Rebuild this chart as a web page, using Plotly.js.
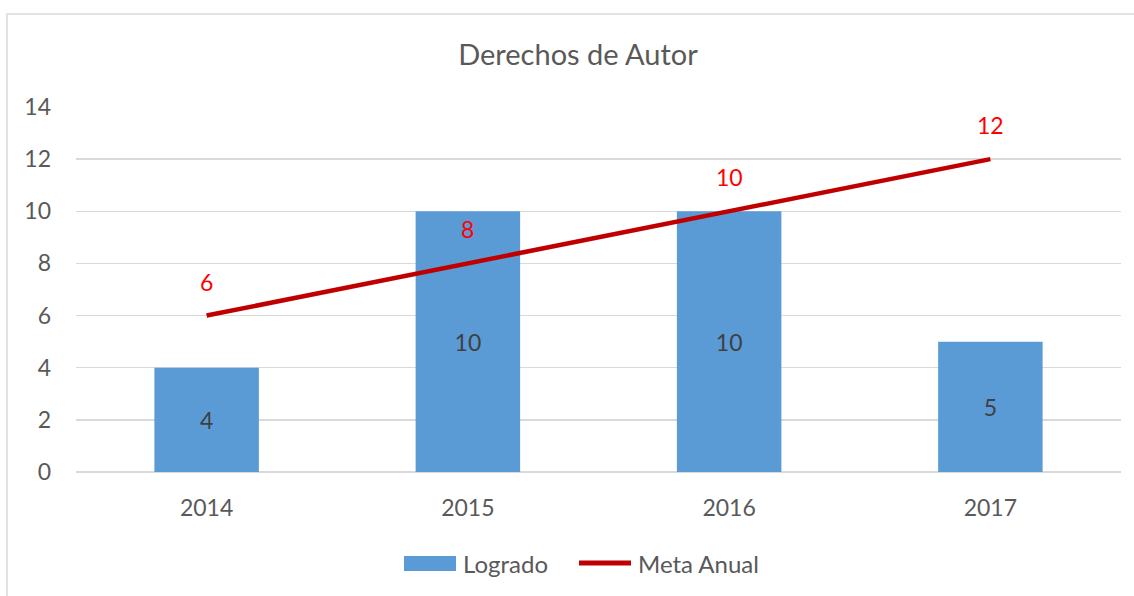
<!DOCTYPE html>
<html>
<head>
<meta charset="utf-8">
<script src="https://cdn.plot.ly/plotly-3.0.1.min.js"></script>
<style>
  html, body { margin: 0; padding: 0; background: #ffffff; overflow: hidden; }
  #chart { width: 1134px; height: 596px; }
</style>
</head>
<body>
<div id="chart"></div>
<script>
var categories = ['2014', '2015', '2016', '2017'];
var logrado = [4, 10, 10, 5];
var metaAnual = [6, 8, 10, 12];
var yTicks = [0, 2, 4, 6, 8, 10, 12, 14];
var seriesNames = ['Logrado', 'Meta Anual'];

var FONT = 'Lato, "Open Sans", sans-serif';
var GREY = '#595959';
var BLUE = '#5B9BD5';
var DARKRED = '#C00000';

// plot-area pixel geometry helpers (for paper-referenced decorations only)
var PL = 76, PR = 1121, PT = 107, PB = 472;
function px(x) { return (x - PL) / (PR - PL); }
function py(y) { return (PB - y) / (PB - PT); }

var barTrace = {
  type: 'bar',
  name: seriesNames[0],
  x: categories,
  y: logrado,
  marker: { color: BLUE },
  text: logrado.map(String),
  textposition: 'inside',
  insidetextanchor: 'middle',
  textangle: 0,
  textfont: { family: FONT, size: 23, color: '#404040' },
  showlegend: false
};

var lineTrace = {
  type: 'scatter',
  mode: 'lines',
  name: seriesNames[1],
  x: categories,
  y: metaAnual,
  line: { color: DARKRED, width: 4.5 },
  showlegend: false
};

// data labels of the target line: x is the category index on the category axis
var annotations = categories.map(function (c, i) {
  return {
    x: i, y: metaAnual[i], xref: 'x', yref: 'y',
    text: String(metaAnual[i]),
    showarrow: false,
    yshift: 34,
    font: { family: FONT, size: 23, color: '#FF0000' }
  };
});

// legend (drawn as paper-referenced swatches + text)
annotations.push({
  xref: 'paper', yref: 'paper', x: px(461), y: py(563),
  xanchor: 'left', yanchor: 'middle', showarrow: false,
  text: seriesNames[0], font: { family: FONT, size: 24, color: GREY }
});
annotations.push({
  xref: 'paper', yref: 'paper', x: px(636), y: py(563),
  xanchor: 'left', yanchor: 'middle', showarrow: false,
  text: seriesNames[1], font: { family: FONT, size: 24, color: GREY }
});

var layout = {
  width: 1134,
  height: 596,
  paper_bgcolor: '#ffffff',
  plot_bgcolor: '#ffffff',
  margin: { l: PL, r: 1134 - PR, t: PT, b: 596 - PB },
  font: { family: FONT, color: GREY },
  showlegend: false,
  title: {
    text: 'Derechos de Autor',
    font: { family: FONT, size: 29, color: GREY },
    x: 578 / 1134, xanchor: 'center', xref: 'container',
    y: 1 - 55 / 596, yanchor: 'middle', yref: 'container'
  },
  bargap: 0.6,
  xaxis: {
    type: 'category',
    categoryarray: categories,
    range: [-0.5, categories.length - 0.5],
    showgrid: false,
    zeroline: false,
    showline: false,
    ticks: '',
    ticklabelstandoff: 20,
    tickfont: { family: FONT, size: 23, color: GREY }
  },
  yaxis: {
    range: [0, 14],
    tickvals: yTicks,
    ticktext: yTicks.map(String),
    showgrid: true,
    gridcolor: '#d9d9d9',
    gridwidth: 1.5,
    zeroline: true,
    zerolinecolor: '#d9d9d9',
    zerolinewidth: 1.5,
    showline: false,
    ticks: '',
    ticklabelstandoff: 24,
    tickfont: { family: FONT, size: 23, color: GREY }
  },
  annotations: annotations,
  shapes: [
    {
      type: 'rect', xref: 'paper', yref: 'paper', layer: 'below',
      x0: px(7), x1: 1.2, y0: -0.5, y1: py(14),
      line: { color: '#d9d9d9', width: 1.5 },
      fillcolor: 'rgba(0,0,0,0)'
    },
    {
      type: 'rect', xref: 'paper', yref: 'paper',
      x0: px(404), x1: px(456), y0: py(571), y1: py(556),
      line: { width: 0 }, fillcolor: BLUE
    },
    {
      type: 'line', xref: 'paper', yref: 'paper',
      x0: px(579), x1: px(631), y0: py(563), y1: py(563),
      line: { color: DARKRED, width: 5 }
    }
  ]
};

Plotly.newPlot('chart', [barTrace, lineTrace], layout, { staticPlot: true, displayModeBar: false });
</script>
</body>
</html>
